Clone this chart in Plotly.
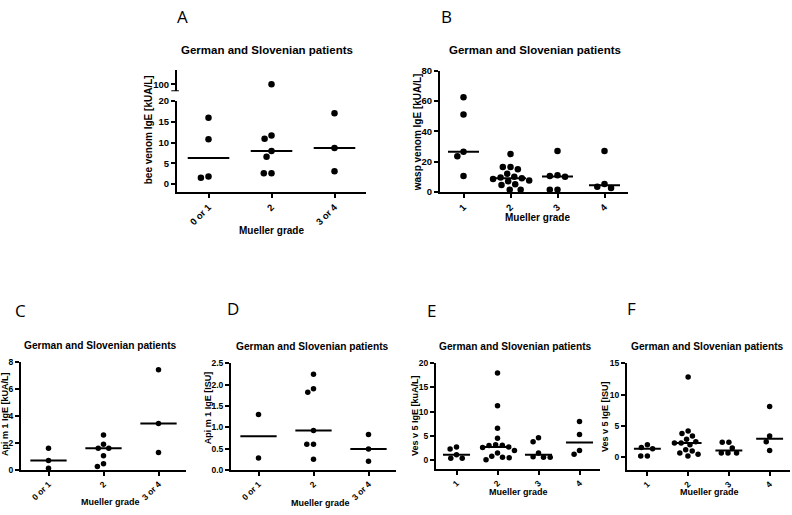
import plotly.graph_objects as go

# ---- values ----
grades_bee = ["0 or 1", "2", "3 or 4"]
grades_wasp = ["1", "2", "3", "4"]

bee_venom_ige = [[16.0, 10.8, 1.8, 1.5], [100, 11.7, 10.9, 8.0, 6.6, 2.6, 2.6], [17.1, 8.7, 3.1]]
wasp_venom_ige = [
    [62.5, 51, 26.5, 23.5, 10.5],
    [25, 16.5, 16.5, 15, 12, 10, 9.5, 9, 8.5, 7.5, 7, 5, 4.5, 1.5, 1.5],
    [27, 11, 10.5, 10, 1.5, 1.5],
    [27, 5.2, 3.5, 2.6],
]
api_m1_kua = [[1.6, 0.7, 0.12], [2.6, 1.9, 1.6, 1.6, 1.05, 0.45, 0.25], [7.45, 3.45, 1.3]]
api_m1_isu = [[1.3, 0.28], [2.24, 1.9, 1.82, 0.92, 0.6, 0.6, 0.25], [0.83, 0.49, 0.2]]
ves_v5_kua = [
    [2.7, 2.3, 1.1, 0.4, 0.4],
    [18, 11.2, 6.6, 4.5, 3.2, 3.1, 3.0, 2.7, 2.6, 2.0, 1.5, 0.8, 0.6, 0.5, 0.1],
    [4.6, 3.8, 1.5, 0.7, 0.6, 0.6],
    [8, 5.3, 2, 1.2],
]
ves_v5_isu = [
    [2.0, 1.55, 1.35, 0.2, 0.2],
    [12.8, 4.2, 3.8, 3.4, 2.9, 2.5, 2.3, 2.3, 2.0, 1.2, 1.0, 0.7, 0.5, 0.2],
    [2.4, 2.4, 1.5, 0.7, 0.7, 0.7],
    [8.1, 3.4, 2.5, 1.1],
]

TITLE = "German and Slovenian patients"
FONT = "Liberation Sans, Arial, sans-serif"
W, H = 792, 515


def median(vals):
    s = sorted(vals)
    n = len(s)
    return s[n // 2] if n % 2 else (s[n // 2 - 1] + s[n // 2]) / 2


def swarm(vals, px_unit, px_cat, diam):
    """Greedy beeswarm: horizontal offsets (category units) so dots don't overlap."""
    order = sorted(range(len(vals)), key=lambda i: -vals[i])
    placed = []
    out = [0.0] * len(vals)
    for i in order:
        y = vals[i] * px_unit
        cands = [0.0]
        for px, py in placed:
            dy = y - py
            if abs(dy) < diam:
                dx = (diam**2 - dy**2) ** 0.5
                cands += [px + dx, px - dx]
        ok = [c for c in cands if all((c - px) ** 2 + (y - py) ** 2 >= diam**2 - 1e-6 for px, py in placed)]
        best = min(ok, key=lambda c: (round(abs(c), 3), c))
        placed.append((best, y))
        out[i] = best / px_cat
    return out


def px_x(p):
    return p / W


def px_y(p):
    return 1 - p / H


fig = go.Figure()


def add_panel(groups, xa, ya, px_unit, px_cat, msize, split=None, ya_hi=None):
    xs, ys, yh_x, yh_y = [], [], [], []
    for i, vals in enumerate(groups):
        offs = swarm(vals, px_unit, px_cat, msize + 1.2)
        for v, o in zip(vals, offs):
            if split is not None and v > split:
                yh_x.append(i + o)
                yh_y.append(v)
            else:
                xs.append(i + o)
                ys.append(v)
        m = median(vals)
        fig.add_trace(go.Scatter(x=[i - 0.33, i + 0.33], y=[m, m], mode="lines",
                                 line=dict(color="black", width=2), xaxis=xa, yaxis=ya,
                                 showlegend=False, hoverinfo="skip"))
    fig.add_trace(go.Scatter(x=xs, y=ys, mode="markers", marker=dict(color="black", size=msize),
                             xaxis=xa, yaxis=ya, showlegend=False))
    if yh_x:
        fig.add_trace(go.Scatter(x=yh_x, y=yh_y, mode="markers", marker=dict(color="black", size=msize),
                                 xaxis=xa, yaxis=ya_hi, showlegend=False))


add_panel(bee_venom_ige, "x", "y", 4.22, 63, 6.5, split=20, ya_hi="y2")
add_panel(wasp_venom_ige, "x2", "y3", 1.55, 47, 6.5)
add_panel(api_m1_kua, "x3", "y4", 13.75, 55, 5.5)
add_panel(api_m1_isu, "x4", "y5", 43.6, 55, 5.5)
add_panel(ves_v5_kua, "x5", "y6", 4.95, 41, 5.5)
add_panel(ves_v5_isu, "x6", "y7", 6.4, 41, 5.5)


def xax(dom, cats, anchor, size):
    return dict(domain=[px_x(dom[0]), px_x(dom[1])], range=[-0.5, len(cats) - 0.5], anchor=anchor,
                tickvals=list(range(len(cats))), ticktext=cats, tickangle=-45,
                showline=True, linecolor="black", linewidth=2, ticks="outside", ticklen=4,
                tickwidth=1.5, tickcolor="black", showgrid=False, zeroline=False,
                tickfont=dict(family=FONT, size=size, color="black", weight="bold"))


def yax(dom, rng, dtick, anchor, size, **kw):
    d = dict(domain=[px_y(dom[0]), px_y(dom[1])], range=rng, anchor=anchor, dtick=dtick, tick0=0,
             showline=True, linecolor="black", linewidth=2, ticks="outside", ticklen=4,
             tickwidth=1.5, tickcolor="black", showgrid=False, zeroline=False,
             tickfont=dict(family=FONT, size=size, color="black", weight="bold"))
    d.update(kw)
    return d


fig.update_layout(
    width=W, height=H, margin=dict(l=0, r=0, t=0, b=0), autosize=False,
    plot_bgcolor="white", paper_bgcolor="white", showlegend=False,
    xaxis=xax((177, 366), grades_bee, "y", 9.5),
    yaxis=yax((190, 97), [-1.9, 20.05], 5, "x", 9.5, tickvals=[0, 5, 10, 15, 20]),
    yaxis2=yax((87, 65), [93, 115], 5, "x", 9.5, tickvals=[100]),
    xaxis2=xax((440, 628), grades_wasp, "y3", 9.5),
    yaxis3=yax((190, 66), [0, 80], 20, "x2", 9.5),
    xaxis3=xax((21, 186), grades_bee, "y4", 8.5),
    yaxis4=yax((474, 364), [0, 8], 2, "x3", 8.5),
    xaxis4=xax((231, 396), grades_bee, "y5", 8.5),
    yaxis5=yax((474, 365), [0, 2.5], 0.5, "x4", 8.5, tickformat=".1f"),
    xaxis5=xax((436, 600), grades_wasp, "y6", 8.5),
    yaxis6=yax((473, 365), [-1.8, 20], 5, "x5", 8.5, tickvals=[0, 5, 10, 15, 20]),
    xaxis6=xax((627, 790), grades_wasp, "y7", 8.5),
    yaxis7=yax((474, 365), [-2, 15], 5, "x6", 8.5, tickvals=[0, 5, 10, 15]),
)

# axis break mark on panel A
fig.add_shape(type="line", xref="x domain", yref="y2", x0=-0.03, x1=0.01, y0=93, y1=93,
              line=dict(color="black", width=2))


def note(text, x, y, size, bold=True, angle=0, family=FONT):
    fig.add_annotation(text=text, x=px_x(x), y=px_y(y), xref="paper", yref="paper",
                       showarrow=False, textangle=angle, xanchor="center", yanchor="middle",
                       font=dict(family=family, size=size, color="black",
                                 weight="bold" if bold else "normal"))


# panel letters
for letter, x, y in [("A", 182, 11), ("B", 446, 11), ("C", 20, 311), ("D", 233, 309),
                     ("E", 432, 311), ("F", 631, 309)]:
    note(letter, x, y, 17, bold=False, family="Open Sans, sans-serif")

# panel titles
for x, y, s in [(267, 45, 11.5), (535, 45, 11.5), (101, 347, 10.2), (312, 348, 10.2),
                (515, 348, 10.2), (707, 348, 10.2)]:
    note(TITLE, x, y, s)

# y axis titles
for text, x, y, s in [("bee venom IgE [kUA/L]", 148, 127, 10), ("wasp venom IgE [kUA/L]", 417, 129, 10),
                      ("Api m 1 IgE [kUA/L]", 5, 417, 9), ("Api m 1 IgE [ISU]", 208, 411, 9),
                      ("Ves v 5 IgE [kuA/L]", 415, 419, 9), ("Ves v 5 IgE [ISU]", 605, 420, 9)]:
    note(text, x, y, s, angle=-90)

# x axis titles
for x, y, s in [(271, 229, 10), (537, 216, 10), (110, 507, 9), (320, 508, 9),
                (518, 497, 9), (709, 497, 9)]:
    note("Mueller grade", x, y, s)

# the page body has a default 8px margin; remove it so the figure sits at the window corner
fig.write_html("out.html", config={"displayModeBar": False},
               post_script="document.body.style.margin='0';")
